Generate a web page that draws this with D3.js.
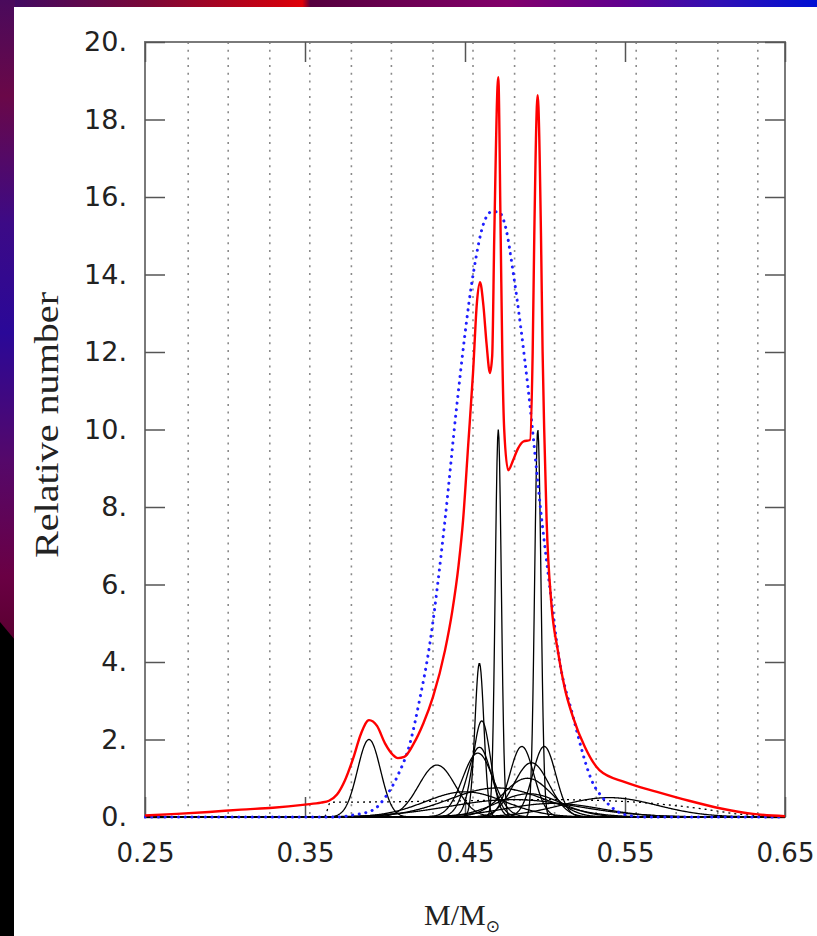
<!DOCTYPE html>
<html>
<head>
<meta charset="utf-8">
<script src="https://cdn.jsdelivr.net/npm/d3@7/dist/d3.min.js"></script>
<style>
body{margin:0;background:#000;}
svg{display:block;}
</style>
</head>
<body>
<script>

const xTicks = [0.25, 0.35, 0.45, 0.55, 0.65];
const yTicks = [0, 2, 4, 6, 8, 10, 12, 14, 16, 18, 20];
const gridMass = [0.277, 0.302, 0.328, 0.353, 0.379, 0.404, 0.430, 0.455, 0.481, 0.506, 0.532, 0.557, 0.582, 0.608, 0.633];

// red: total distribution
const sumCurve = [
   [0.25,0.04],[0.27,0.08],[0.29,0.13],[0.31,0.19],[0.33,0.24],[0.35,0.32],[0.36,0.37],
   [0.365,0.42],[0.37,0.58],[0.375,0.95],[0.38,1.5],[0.385,2.15],[0.39,2.5],[0.395,2.35],
   [0.40,1.9],[0.405,1.6],[0.408,1.52],[0.412,1.55],[0.418,1.9],[0.424,2.42],[0.43,3.1],
   [0.4375,4.3],[0.442,5.3],[0.446,6.5],[0.4488,7.66],[0.452,9.6],[0.455,11.45],[0.4575,13.3],
   [0.4594,13.8],[0.4615,13.2],[0.4635,12.2],[0.4656,11.46],[0.467,11.9],[0.4683,15],
   [0.4708,19.09],[0.4723,15],[0.4733,12],[0.4745,10],[0.477,8.95],[0.480,9.2],[0.483,9.5],
   [0.4865,9.69],[0.4906,9.73],[0.4923,12],[0.4933,15],[0.4954,18.63],[0.4975,15],[0.4985,12],
   [0.4995,10],[0.501,7.66],[0.504,5.5],[0.508,4.3],[0.5125,3.3],[0.5175,2.58],[0.525,1.8],
   [0.534,1.21],[0.55,0.9],[0.57,0.65],[0.59,0.42],[0.61,0.22],[0.63,0.08],[0.65,0.02]
];

// blue: single-gaussian fit
const fitCurve = [
   [0.25,0],[0.37,0],[0.38,0.05],[0.3925,0.18],[0.40,0.5],[0.4075,1.03],[0.4156,1.9],
   [0.422,3.1],[0.427,4.2],[0.4375,7.66],[0.4448,10.59],[0.4552,14.03],[0.4615,15.3],
   [0.4667,15.62],[0.4708,15.62],[0.4755,15.2],[0.4802,14.03],[0.4896,11.0],[0.498,7.66],
   [0.504,5.6],[0.508,4.3],[0.5175,2.6],[0.53,0.87],[0.536,0.5],[0.545,0.15],[0.555,0.02],
   [0.56,0],[0.65,0]
];

// black dotted: broad flat component
const flatCurve = [
   [0.25,0],[0.362,0],[0.366,0.38],[0.40,0.39],[0.45,0.42],[0.50,0.45],[0.55,0.40],
   [0.58,0.3],[0.60,0.2],[0.62,0.08],[0.64,0.02],[0.65,0]
];

// black: individual components
const compCenter = [0.390, 0.4325, 0.459, 0.4605, 0.459, 0.458, 0.4708, 0.4955, 0.4855, 0.4995, 0.4915, 0.489, 0.47, 0.45, 0.54, 0.49, 0.48, 0.505];
const compHeight = [2.0, 1.34, 3.97, 2.48, 1.8, 1.65, 10.0, 10.0, 1.82, 1.82, 1.4, 1.0, 0.75, 0.65, 0.5, 0.6, 0.45, 0.35];
const compWidth  = [0.0072, 0.0115, 0.0028, 0.0055, 0.0075, 0.0095, 0.0019, 0.0020, 0.0075, 0.0072, 0.011, 0.015, 0.03, 0.025, 0.03, 0.02, 0.04, 0.03];

const w = 817;
const h = 936;

const xScale = d3.scaleLinear().domain([0.25, 0.65]).range([145, 785]);
const yScale = d3.scaleLinear().domain([0, 20]).range([817, 42]);

const svg = d3.select("body").append("svg")
   .attr("width", w)
   .attr("height", h);

const defs = svg.append("defs");

const topGrad = defs.append("linearGradient").attr("id", "topband");
[["0%","#3c0a66"],["18%","#7a0838"],["34%","#cc0010"],["37%","#e00008"],["38%","#55003e"],
 ["48%","#6a0050"],["62%","#82006a"],["76%","#62008e"],["88%","#3010b4"],["100%","#0010d4"]]
   .forEach(s => topGrad.append("stop").attr("offset", s[0]).attr("stop-color", s[1]));

const leftGrad = defs.append("linearGradient").attr("id", "leftband")
   .attr("x1", 0).attr("x2", 0).attr("y1", 0).attr("y2", 1);
[["0%","#4a0a5c"],["15%","#6a0848"],["35%","#3c0a86"],["52%","#2a0898"],["72%","#55086a"],
 ["90%","#6a0044"],["100%","#5a0030"]]
   .forEach(s => leftGrad.append("stop").attr("offset", s[0]).attr("stop-color", s[1]));

svg.append("rect").attr("width", w).attr("height", h).attr("fill", "#000");
svg.append("rect").attr("x", 0).attr("y", 0).attr("width", w).attr("height", 8).attr("fill", "url(#topband)");
svg.append("path").attr("d", "M0,0L15,0L15,640L0,622Z").attr("fill", "url(#leftband)");
svg.append("rect").attr("x", 14).attr("y", 7).attr("width", w - 14).attr("height", h - 7).attr("fill", "#fff");

defs.append("clipPath").attr("id", "plotclip")
   .append("rect").attr("x", 144).attr("y", 40).attr("width", 642).attr("height", 780);

// dotted mass grid
svg.append("g").selectAll("line")
   .data(gridMass)
   .enter()
   .append("line")
   .attr("x1", d => xScale(d)).attr("x2", d => xScale(d))
   .attr("y1", yScale(20)).attr("y2", yScale(0))
   .attr("stroke", "#8a8a8a")
   .attr("stroke-width", 1.6)
   .attr("stroke-dasharray", "2,5.7");

// frame
svg.append("rect")
   .attr("x", 145).attr("y", 42)
   .attr("width", 640).attr("height", 775)
   .attr("fill", "none")
   .attr("stroke", "#7a7a7a")
   .attr("stroke-width", 2);

const yAxis = d3.axisLeft(yScale).tickValues(yTicks).tickSize(-20).tickPadding(18)
   .tickFormat(d => d + ".");
const yAxisR = d3.axisRight(yScale).tickValues(yTicks).tickSize(-20).tickFormat("");
const xAxis = d3.axisBottom(xScale).tickValues(xTicks).tickSize(-20).tickPadding(27)
   .tickFormat(d3.format(".2f"));
const xAxisT = d3.axisTop(xScale).tickValues(xTicks).tickSize(-20).tickFormat("");

const gy = svg.append("g").attr("transform", "translate(145,0)").call(yAxis);
svg.append("g").attr("transform", "translate(785,0)").call(yAxisR);
const gx = svg.append("g").attr("transform", "translate(0,817)").call(xAxis);
svg.append("g").attr("transform", "translate(0,42)").call(xAxisT);

svg.selectAll(".domain").remove();
svg.selectAll(".tick line").attr("stroke", "#555").attr("stroke-width", 1.5);

gy.selectAll("text")
   .attr("font-family", "DejaVu Sans")
   .attr("font-size", 27)
   .attr("fill", "#222");

gx.selectAll("text")
   .attr("font-family", "DejaVu Sans")
   .attr("font-size", 26)
   .attr("fill", "#222");

const line = d3.line()
   .x(d => xScale(d[0]))
   .y(d => yScale(d[1]))
   .curve(d3.curveMonotoneX);

const plot = svg.append("g").attr("clip-path", "url(#plotclip)");

const massSteps = d3.range(0.25, 0.6501, 0.0004);
const comps = compCenter.map((c, i) => massSteps.map(m =>
   [m, compHeight[i] * Math.exp(-((m - c) * (m - c)) / (2 * compWidth[i] * compWidth[i]))]));

plot.selectAll("path.comp")
   .data(comps)
   .enter()
   .append("path")
   .attr("class", "comp")
   .attr("d", d3.line().x(d => xScale(d[0])).y(d => yScale(d[1])))
   .attr("fill", "none")
   .attr("stroke", "#000")
   .attr("stroke-width", 1.3);

plot.append("path")
   .attr("d", line(flatCurve))
   .attr("fill", "none")
   .attr("stroke", "#000")
   .attr("stroke-width", 1.3)
   .attr("stroke-dasharray", "2,4");

plot.append("path")
   .attr("d", line(fitCurve))
   .attr("fill", "none")
   .attr("stroke", "#1f1fff")
   .attr("stroke-width", 3)
   .attr("stroke-linecap", "round")
   .attr("stroke-dasharray", "0.1,6.6");

plot.append("path")
   .attr("d", line(sumCurve))
   .attr("fill", "none")
   .attr("stroke", "#ff0000")
   .attr("stroke-width", 2.4);

svg.append("text")
   .attr("transform", "translate(58,425) rotate(-90)")
   .attr("text-anchor", "middle")
   .attr("font-family", "Liberation Serif")
   .attr("font-size", 34)
   .attr("textLength", 266)
   .attr("lengthAdjust", "spacingAndGlyphs")
   .attr("fill", "#222")
   .text("Relative number");

const xl = svg.append("text")
   .attr("x", 462)
   .attr("y", 925)
   .attr("text-anchor", "middle")
   .attr("font-family", "Liberation Serif")
   .attr("font-size", 30)
   .attr("fill", "#222");
xl.append("tspan").text("M/M");
xl.append("tspan").attr("dy", 7).attr("font-size", 17).attr("font-family", "DejaVu Sans").text("\u2299");

</script>
</body>
</html>
